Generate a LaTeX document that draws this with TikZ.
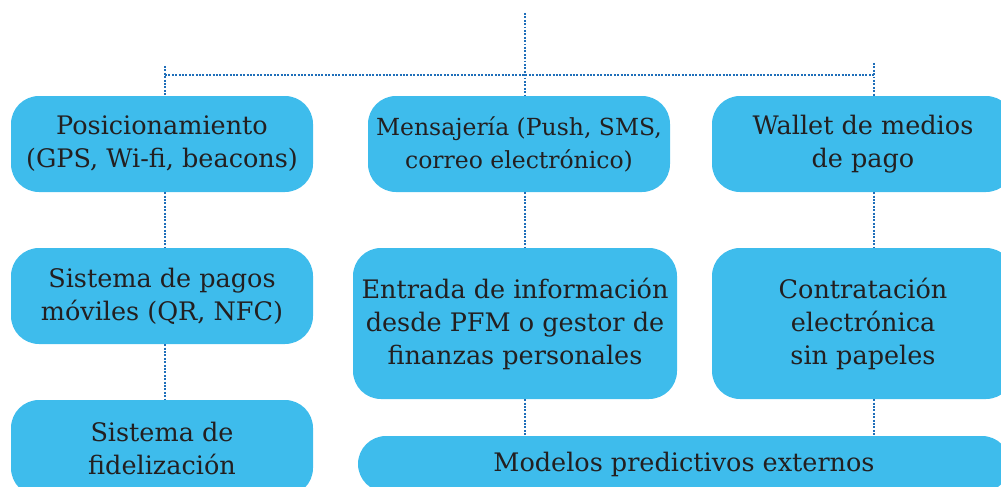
\documentclass[tikz,border=0pt]{standalone}
\usepackage{fontspec}
\setmainfont{DejaVu Serif}
\definecolor{cajas}{HTML}{3EBCEC}
\definecolor{linea}{HTML}{1F6FBA}
\definecolor{texto}{HTML}{231F20}
\begin{document}
\begin{tikzpicture}[
		x=1pt, y=-1pt,
		caja/.style={rectangle, rounded corners=28pt, fill=cajas, text=texto, align=center,
				inner sep=0pt, minimum width=302pt, minimum height=96pt,
				font=\fontsize{25.5}{33}\selectfont},
		enlace/.style={linea, line width=2.1pt, dash pattern=on 1.9pt off 1.5pt}
	]
	\useasboundingbox (0,0) rectangle (1001,487);
	\clip (0,0) rectangle (1001,487);
	% fila 1
	\node[caja] (pos) at (162,144) {Posicionamiento\\(GPS, Wi-fi, beacons)};
	\node[caja, font=\fontsize{23.5}{33}\selectfont] (msg) at (519,144)
	{Mensajería (Push, SMS,\\correo electrónico)};
	\node[caja] (wallet) at (863,144) {Wallet de medios\\de pago};
	% fila 2
	\node[caja] (pagos) at (162,296) {Sistema de pagos\\móviles (QR, NFC)};
	\node[caja, minimum width=324pt, minimum height=151pt] (entrada) at (515,323.5)
	{Entrada de información\\desde PFM o gestor de\\finanzas personales};
	\node[caja, minimum height=151pt] (contrat) at (863,323.5)
	{Contratación\\electrónica\\sin papeles};
	% fila 3
	\node[caja] (fidel) at (162,448) {Sistema de\\fidelización};
	\node[caja, minimum width=652pt, minimum height=56pt] (modelos) at (684,464)
	{Modelos predictivos externos};
	% enlaces
	\coordinate (arriba) at (525,13);
	\coordinate (izq) at (165,66);
	\coordinate (der) at (874,63);
	\draw[enlace] (arriba) -- (arriba |- msg.north);
	\draw[enlace] (izq) -- (izq |- pos.north);
	\draw[enlace] (der) -- (der |- wallet.north);
	\draw[enlace] (izq |- 0,75) -- (der |- 0,75);
	\draw[enlace] (pos.south -| izq) -- (pagos.north -| izq);
	\draw[enlace] (pagos.south -| izq) -- (fidel.north -| izq);
	\draw[enlace] (msg.south -| arriba) -- (entrada.north -| arriba);
	\draw[enlace] (entrada.south -| arriba) -- (modelos.north -| arriba);
	\draw[enlace] (wallet.south -| der) -- (contrat.north -| der);
	\draw[enlace] (contrat.south -| der) -- (modelos.north -| der);
\end{tikzpicture}
\end{document}
